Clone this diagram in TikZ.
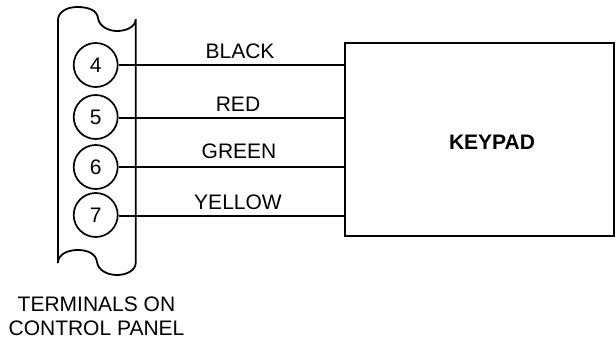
\documentclass[tikz,border=0pt]{standalone}
\usepackage{fontspec}
\setmainfont{Liberation Sans}
\usetikzlibrary{calc}
\begin{document}
\begin{tikzpicture}[x=1pt,y=-1pt,
  term/.style={circle,draw=black,line width=1.7pt,minimum size=44pt,inner sep=0pt,font=\fontsize{21}{24}\selectfont},
  keybox/.style={draw=black,line width=1.9pt,inner sep=0pt},
  keytext/.style={font=\fontsize{21}{24}\bfseries\selectfont,inner sep=0pt,anchor=base},
  wire/.style={draw=black,line width=1.6pt},
  lab/.style={font=\fontsize{21}{24}\selectfont,inner sep=0pt,anchor=base},
  strip/.style={draw=black,line width=1.8pt}]
\useasboundingbox (0,0) rectangle (616,341);
\draw[strip] (58,263) -- (58,20) .. controls (58,12) and (67,7) .. (77,7)
  .. controls (88,7) and (97,10) .. (98,18)
  .. controls (99,26) and (108,31) .. (117,31)
  .. controls (126,31) and (135.7,27) .. (135.7,19)
  -- (135.7,263) .. controls (135.7,270) and (127,275) .. (117,275)
  .. controls (107,275) and (98,270) .. (97,262)
  .. controls (96,254) and (88,250) .. (78,250)
  .. controls (68,250) and (58,254) .. (58,263);
\node[term] (t4) at (95.7,65) {4};
\node[term] (t5) at (95.7,117) {5};
\node[term] (t6) at (95.7,167) {6};
\node[term] (t7) at (95.7,215) {7};
\node[keybox,minimum width=269pt,minimum height=192.5pt] (kp) at (479.5,139.5) {};
\node[keytext] (kt) at (492,149) {KEYPAD};
\coordinate (a4) at (t4.east);
\coordinate (a5) at ([yshift=-1pt]t5.east);
\coordinate (a6) at (t6.east);
\coordinate (a7) at ([yshift=-1pt]t7.east);
\draw[wire] (a4) -- (kp.west |- a4);
\draw[wire] (a5) -- (kp.west |- a5);
\draw[wire] (a6) -- (kp.west |- a6);
\draw[wire] (a7) -- (kp.west |- a7);
\node[lab] (l4) at (240,58) {BLACK};
\node[lab] (l5) at (238,111) {RED};
\node[lab] (l6) at (239,158) {GREEN};
\node[lab] (l7) at (238,209) {YELLOW};
\node[lab] (c1) at (96.5,311.5) {TERMINALS ON};
\node[lab] (c2) at (96.5,335) {CONTROL PANEL};
\end{tikzpicture}
\end{document}
